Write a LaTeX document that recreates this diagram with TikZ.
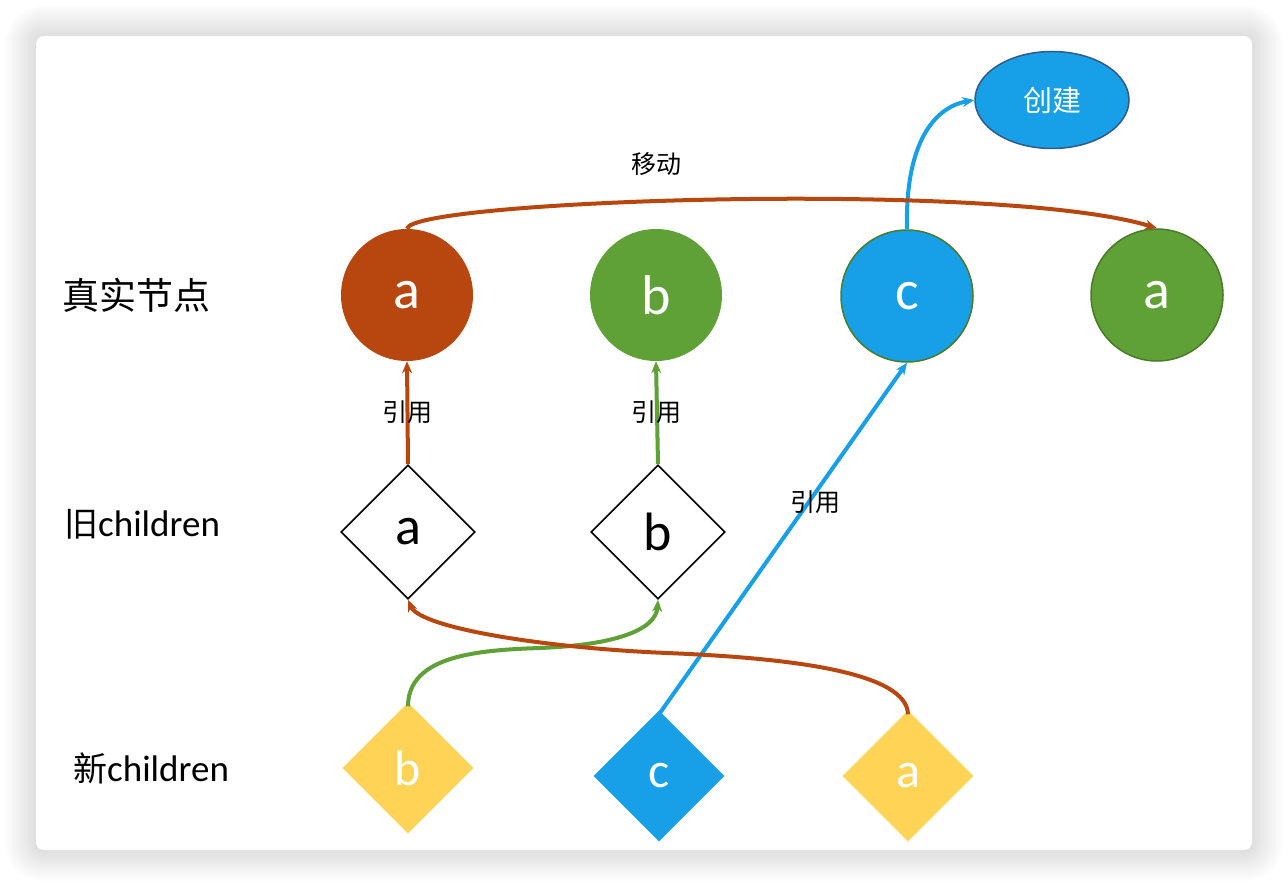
\documentclass[tikz,border=0pt]{standalone}
\usepackage{fontspec}
\setmainfont{Carlito}
\newfontfamily\cjk{Noto Sans CJK SC}
\usetikzlibrary{arrows.meta,shapes.geometric}
\definecolor{brn}{HTML}{B7470F}
\definecolor{grn}{HTML}{5FA136}
\definecolor{blu}{HTML}{17A0E8}
\definecolor{dgrn}{HTML}{4B7A2B}
\definecolor{dblu}{HTML}{2F5A8A}
\definecolor{yel}{HTML}{FED356}
\tikzset{
  realnode/.style={circle, minimum size=132pt, inner sep=0pt, text=white, font=\fontsize{56}{56}\selectfont},
  olddia/.style={diamond, draw=black, line width=1.6pt, fill=white, minimum width=134pt, minimum height=134pt, inner sep=0pt, font=\fontsize{54}{54}\selectfont},
  newdia/.style={diamond, minimum width=131pt, minimum height=131pt, inner sep=0pt, text=white, font=\fontsize{50}{50}\selectfont},
  rowlabel/.style={anchor=west, inner sep=0pt, font=\fontsize{37}{37}\selectfont},
  small/.style={inner sep=0pt, font=\cjk\fontsize{25}{25}\selectfont},
  conn/.style={line width=4pt, -{Stealth[length=12pt,width=10pt]}},
}
\begin{document}
\begin{tikzpicture}[x=1pt,y=-1pt]
\useasboundingbox (0,0) rectangle (1288,888);
\fill[white] (0,0) rectangle (1288,888);
\foreach \i [evaluate=\i as \r using 8+\i] in {1,...,32}
  \fill[black, opacity=0.005, rounded corners=\r pt] ({36-\i},{36-\i}) rectangle ({1252+\i},{850+\i});
\fill[white, rounded corners=8pt] (36,36) rectangle (1252,850);

% row labels
\node[rowlabel] (l1) at (62,295) {\cjk 真实节点};
\node[rowlabel] (l2) at (64,524) {{\cjk\fontsize{34}{34}\selectfont 旧}children};
\node[rowlabel] (l3) at (73,768) {{\cjk\fontsize{34}{34}\selectfont 新}children};

% real nodes
\node[realnode, fill=brn] (ra) at (407,295) {a};
\node[realnode, fill=grn] (rb) at (656,295) {b};
\node[realnode, fill=blu, draw=dgrn, line width=1.5pt] (rc) at (907,296) {c};
\node[realnode, fill=grn, draw=dgrn, line width=1.5pt] (ga) at (1157,295) {a};
\node[ellipse, fill=blu, draw=dblu, line width=1.5pt, minimum width=154pt, minimum height=97pt, inner sep=0pt, text=white, font=\cjk\fontsize{29}{29}\selectfont] (cr) at (1052,100) {创建};

% old children
\node[olddia] (oa) at (408,532) {a};
\node[olddia] (ob) at (658,532) {b};

% new children
\node[newdia, fill=yel] (nb) at (408,768) {b};
\node[newdia, fill=blu] (nc) at (659,776) {c};
\node[newdia, fill=yel] (na) at (908,776) {a};

% connectors
\draw[conn, brn] (oa.north) -- (ra.south);
\draw[conn, grn] (ob.north) -- (rb.south);
\draw[conn, blu] ([yshift=-4pt]nc.north) -- (rc.south);
\draw[conn, blu] (rc.north) .. controls (905,150) and (930,108) .. (cr.west);
\draw[conn, brn] (ra.north) .. controls (410,200) and (1000,180) .. (ga.north);
\draw[conn, grn] ([yshift=-4pt]nb.north) .. controls (408,655) and (480,650) .. (540,648) .. controls (615,645) and (656,630) .. (ob.south);
\draw[conn, brn] ([yshift=-4pt]na.north) .. controls (907,672) and (790,658) .. (667,653) .. controls (545,648) and (420,628) .. (oa.south);

% labels
\node[small] (t1) at (407,412) {引用};
\node[small] (t2) at (656,412) {引用};
\node[small] (t3) at (815,502) {引用};
\node[small] (t4) at (656,164) {移动};
\end{tikzpicture}
\end{document}
